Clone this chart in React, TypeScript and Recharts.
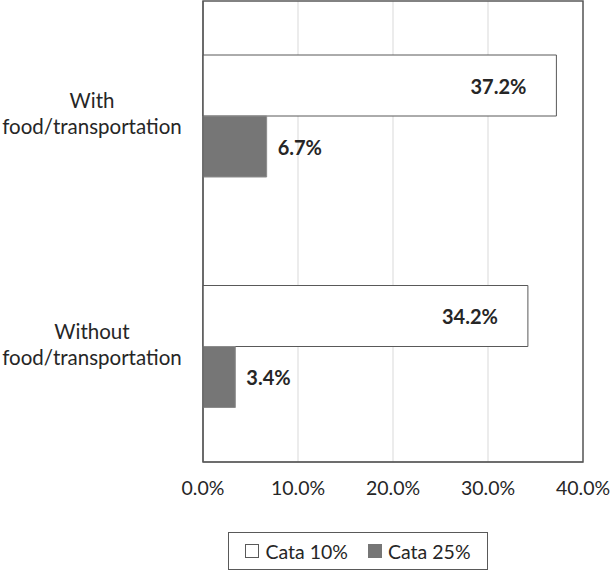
import React from "react";
import {
  BarChart,
  Bar,
  XAxis,
  YAxis,
  CartesianGrid,
  LabelList,
  ReferenceArea,
} from "recharts";

const categories = ["With food/transportation", "Without food/transportation"];
const cata10 = [37.2, 34.2];
const cata25 = [6.7, 3.4];
const xTicks = [0, 10, 20, 30, 40];
const seriesNames = ["Cata 10%", "Cata 25%"];

const FONT = "Lato, 'Open Sans', sans-serif";
const TEXT = "#262626";
const FRAME = "#595959";
const GRAY = "#767676";

const data = categories.map((c, i) => ({ name: c, a: cata10[i], b: cata25[i] }));

function pct(v: number) {
  return `${v.toFixed(1)}%`;
}

function CategoryTick({ x, y, payload }: any) {
  const label = String(payload.value);
  const cut = label.indexOf(" ");
  const first = label.slice(0, cut);
  const rest = label.slice(cut + 1);
  return (
    <text x={x - 103} y={y} textAnchor="middle" fill={TEXT} fontSize={20.5} fontFamily={FONT}>
      <tspan x={x - 103} dy={-8}>{first}</tspan>
      <tspan x={x - 103} dy={26}>{rest}</tspan>
    </text>
  );
}

function InsideLabel({ x, y, width, height, value }: any) {
  return (
    <text
      x={x + width - 30}
      y={y + height / 2}
      textAnchor="end"
      dominantBaseline="central"
      fill={TEXT}
      fontSize={20}
      fontWeight={700}
      fontFamily={FONT}
    >
      {pct(value)}
    </text>
  );
}

function OutsideLabel({ x, y, width, height, value }: any) {
  return (
    <text
      x={x + width + 11}
      y={y + height / 2}
      textAnchor="start"
      dominantBaseline="central"
      fill={TEXT}
      fontSize={20}
      fontWeight={700}
      fontFamily={FONT}
    >
      {pct(value)}
    </text>
  );
}

function Swatch({ fill, stroke }: { fill: string; stroke: string }) {
  return (
    <span
      style={{
        display: "inline-block",
        width: 12,
        height: 12,
        background: fill,
        border: `1px solid ${stroke}`,
        marginRight: 6,
      }}
    />
  );
}

export default function App() {
  return (
    <div style={{ position: "absolute", left: 0, top: 0, width: 610, height: 571, background: "#fff" }}>
      <BarChart
        width={610}
        height={571}
        data={data}
        layout="vertical"
        margin={{ top: 1, right: 27, bottom: 59, left: 0 }}
        barGap={0}
      >
        <CartesianGrid horizontal={false} stroke="#d9d9d9" />
        <XAxis
          type="number"
          domain={[0, 40]}
          ticks={xTicks}
          tickFormatter={pct}
          axisLine={{ stroke: FRAME }}
          tickLine={false}
          tickMargin={13}
          height={50}
          tick={{ fill: TEXT, fontSize: 19.5, fontFamily: FONT }}
          interval={0}
        />
        <YAxis
          type="category"
          dataKey="name"
          width={203}
          axisLine={{ stroke: FRAME }}
          tickLine={false}
          tick={<CategoryTick />}
        />
        <Bar dataKey="a" name={seriesNames[0]} barSize={61} fill="#ffffff" stroke={FRAME} isAnimationActive={false}>
          <LabelList dataKey="a" content={<InsideLabel />} />
        </Bar>
        <Bar dataKey="b" name={seriesNames[1]} barSize={61} fill={GRAY} stroke="#8c8c8c" isAnimationActive={false}>
          <LabelList dataKey="b" content={<OutsideLabel />} />
        </Bar>
        <ReferenceArea x1={0} x2={40} fill="none" stroke={FRAME} strokeWidth={1.5} />
      </BarChart>
      <div
        style={{
          position: "absolute",
          left: 228,
          top: 532,
          width: 258,
          height: 36,
          border: `1px solid ${FRAME}`,
          display: "flex",
          alignItems: "center",
          justifyContent: "center",
          gap: 20,
          fontFamily: FONT,
          fontSize: 19.5,
          color: TEXT,
        }}
      >
        <span style={{ display: "flex", alignItems: "center" }}>
          <Swatch fill="#ffffff" stroke={FRAME} />
          {seriesNames[0]}
        </span>
        <span style={{ display: "flex", alignItems: "center" }}>
          <Swatch fill={GRAY} stroke={GRAY} />
          {seriesNames[1]}
        </span>
      </div>
    </div>
  );
}
